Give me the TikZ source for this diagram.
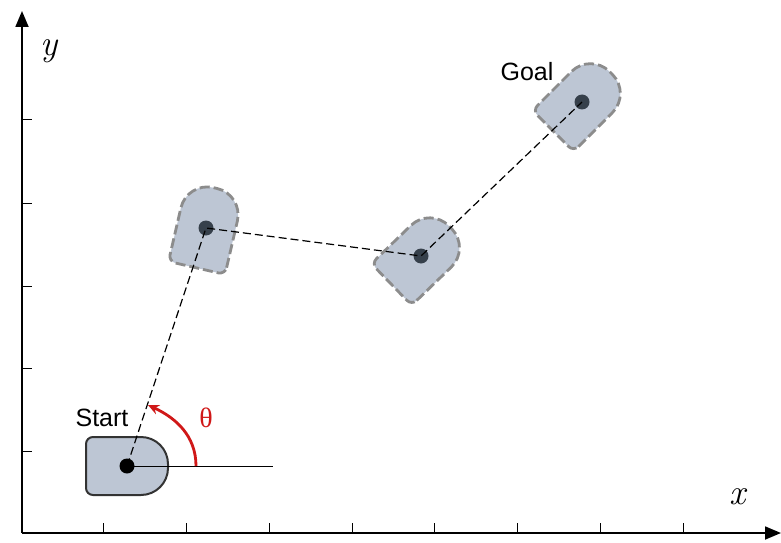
\documentclass[tikz,border=0pt]{standalone}
\usepackage{fontspec}
\setsansfont{Liberation Sans}
\newfontfamily\thetafont{Liberation Serif}
\usetikzlibrary{arrows.meta}
\definecolor{bodyfill}{HTML}{BDC6D4}
\definecolor{ghostline}{HTML}{8C8C8C}
\definecolor{dotdark}{HTML}{36404B}
\definecolor{thetared}{HTML}{D01818}
\newcommand\robotpath{(-34,-29) -- (14,-29) arc[start angle=-90,end angle=0,radius=27] -- (41,2) arc[start angle=0,end angle=90,radius=27] -- (-34,29) arc[start angle=90,end angle=180,radius=7] -- (-41,-22) arc[start angle=180,end angle=270,radius=7] -- cycle}
\tikzset{
  axisline/.style={line width=1.8pt,-{Triangle[length=16pt,width=13pt]}},
  tickline/.style={line width=1pt},
  startbody/.style={fill=bodyfill,draw=black!80,line width=2pt},
  ghostbody/.style={fill=bodyfill,draw=ghostline,line width=2.8pt,dash pattern=on 10pt off 4pt},
  startdot/.style={circle,fill=black,inner sep=0pt,minimum size=15pt},
  ghostdot/.style={circle,fill=dotdark,inner sep=0pt,minimum size=15pt},
  pathline/.style={line width=1.2pt,dash pattern=on 8pt off 4pt},
  lbl/.style={font=\sffamily\fontsize{25}{29}\selectfont},
  axlbl/.style={font=\itshape\fontsize{36}{42}\selectfont},
}
\begin{document}
\begin{tikzpicture}[x=1pt,y=1pt]
\useasboundingbox (0,0) rectangle (781,542);
% axes
\coordinate (o) at (22,9);
\coordinate (xend) at (781,9);
\coordinate (yend) at (22,531);
\draw[axisline] (o) -- (xend);
\draw[axisline] (o) -- (yend);
\foreach \x in {103,186,269,352,434,517,600,683} \draw[tickline] (\x,9) -- (\x,19);
\foreach \y in {422,339,256,174,91} \draw[tickline] (22,\y) -- (32,\y);
\node[axlbl] (xl) at (738,45) {x};
\node[axlbl] (yl) at (49,491) {y};
% robots
\draw[startbody] [shift={(127,76)}] \robotpath;
\draw[ghostbody] [shift={(206,314)},rotate=77] \robotpath;
\draw[ghostbody] [shift={(421,286)},rotate=44] \robotpath;
\draw[ghostbody] [shift={(582,440)},rotate=45] \robotpath;
% dots
\node[startdot] (s) at (127,76) {};
\node[ghostdot] (r1) at (206,314) {};
\node[ghostdot] (r2) at (421,286) {};
\node[ghostdot] (g) at (582,440) {};
\coordinate (h) at (273,76);
% lines
\draw[line width=1pt] (s.center) -- (h);
\draw[pathline] (s.center) -- (r1.center) -- (r2.center) -- (g.center);
% theta
\coordinate (a0) at (196,76);
\coordinate (a1) at (148,137);
\draw[thetared,line width=2.8pt,-{Stealth[length=11pt,width=10pt]}] (a0) to[out=90,in=-25] (a1);
\node[font=\thetafont\fontsize{28}{32}\selectfont,text=thetared] (th) at (206,124) {θ};
% labels
\node[lbl] (st) at (102,124) {Start};
\node[lbl] (gl) at (527,470) {Goal};
\end{tikzpicture}
\end{document}
